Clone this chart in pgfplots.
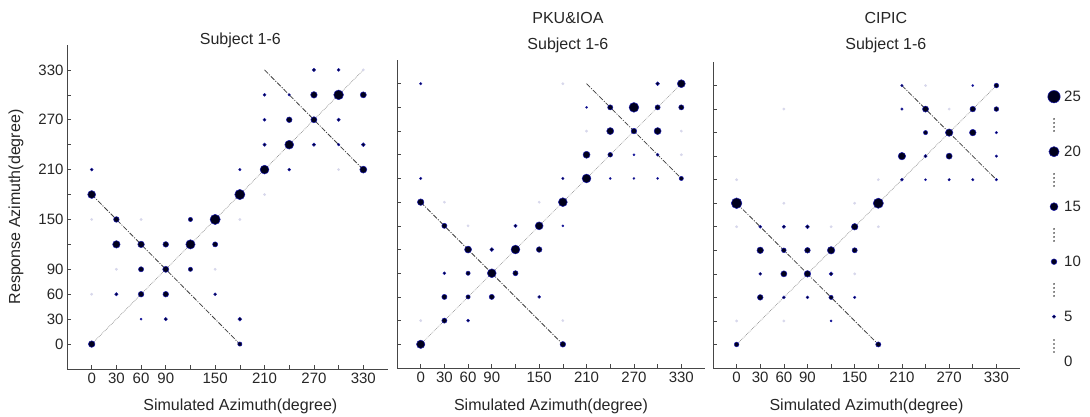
\documentclass[border=0pt]{standalone}
\usepackage{fontspec}
\setmainfont{Liberation Sans}
\usepackage{pgfplots}
\usepackage{pgfplotstable}
\pgfplotsset{compat=1.18}
\definecolor{dotfill}{RGB}{0,0,30}
\definecolor{dotedge}{RGB}{30,30,175}
\definecolor{spine}{RGB}{70,70,70}
\definecolor{faint}{RGB}{215,215,235}

\pgfplotstableread{
x y s
0 0 12
0 180 15
0 210 4
30 150 10
30 120 14
30 60 5
60 120 12
60 90 9
60 60 10
60 30 2
90 120 10
90 90 11
90 60 10
90 30 5
120 150 7
120 120 18
120 90 7
150 150 20
150 120 9
150 60 4
180 180 20
180 210 3
180 30 6
180 0 7
210 210 17
210 300 4
210 270 4
210 240 5
240 270 10
240 240 17
240 300 3
240 210 4
270 330 5
270 300 12
270 270 11
270 240 5
300 330 4
300 300 19
300 270 5
300 240 3
330 300 11
330 240 6
330 210 13
}\panelA
\pgfplotstableread{
x y
0 150
0 60
30 90
60 150
150 90
180 150
210 180
300 210
330 330
}\faintA

\pgfplotstableread{
x y s
0 330 3
0 210 3
0 180 12
0 0 16
30 150 9
30 90 4
30 60 9
30 30 9
60 120 13
60 90 7
60 60 7
60 30 4
90 120 6
90 90 17
90 60 9
120 150 5
120 120 17
120 90 9
150 150 15
150 120 10
150 60 4
180 180 17
180 210 3
180 150 2
180 0 10
210 210 17
210 240 13
210 300 2
240 300 9
240 270 13
240 240 8
240 210 2
270 300 19
270 270 10
270 240 2
270 210 2
300 330 6
300 300 9
300 270 13
300 240 4
300 210 2
330 330 15
330 300 9
330 210 7
}\panelB
\pgfplotstableread{
x y
180 330
30 180
60 150
150 180
0 30
180 30
330 270
330 240
210 270
}\faintB

\pgfplotstableread{
x y s
0 180 21
0 0 8
30 150 4
30 120 12
30 90 4
30 60 10
60 150 5
60 120 8
60 90 11
60 60 4
90 150 6
90 120 10
90 90 12
90 60 4
120 120 14
120 90 6
120 60 7
120 30 2
150 150 12
150 120 9
150 60 3
180 180 20
180 0 9
210 330 3
210 300 3
210 210 4
210 240 14
240 300 11
240 270 7
240 240 5
240 210 2
270 270 14
270 240 11
270 210 3
300 330 2
300 300 10
300 270 12
300 210 3
330 330 8
330 300 8
330 270 3
330 240 3
330 210 3
}\panelC
\pgfplotstableread{
x y
270 300
60 300
0 210
60 180
150 180
180 210
0 150
120 150
180 150
0 30
60 30
150 90
240 330
}\faintC

\pgfplotstableread{
x y s
14 320.3 25
14 265.3 20
14 210.3 15
14 155.3 10
14 100.3 5
}\legdots
\pgfplotstableread{
x y
14 298
14 294
14 290
14 286
14 243
14 239
14 235
14 231
14 188
14 184
14 180
14 176
14 133
14 129
14 125
14 121
14 77
14 73
14 69
14 65
}\legellipsis

\pgfplotsset{
  panel/.style={
    scale only axis, xmin=-30, xmax=360, ymin=-30, ymax=360,
    axis x line*=bottom, axis y line*=left,
    axis line style={spine, line width=0.8pt},
    tick align=inside, major tick length=3.5pt,
    tick style={spine, line width=0.6pt},
    xtick={0,30,...,330}, ytick={0,30,...,330},
    xticklabels={0,30,60,90,{},150,{},210,{},270,{},330},
    tick label style={font=\fontsize{15}{18}\selectfont, text=black!85},
    label style={font=\fontsize{16}{19}\selectfont, text=black!85},
    xlabel={Simulated Azimuth(degree)},
    clip=false,
  },
  bubbles/.style={
    scatter, only marks, mark=*, point meta=\thisrow{s},
    scatter/use mapped color={draw=dotedge, fill=dotfill},
    visualization depends on={0.55+\thisrow{s}/4.4 \as \perpointmarksize},
    scatter/@pre marker code/.append style={/tikz/mark size=\perpointmarksize},
    line width=0.5pt,
  },
  faintdots/.style={only marks, mark=*, mark size=1.2pt, color=faint},
  diag/.style={black!45, densely dotted, line width=0.7pt},
  anti/.style={black!75, dash pattern=on 5pt off 1.5pt on 1pt off 1.5pt, line width=0.8pt},
}
\newcommand{\ttl}{\fontsize{16}{19}\selectfont}
\newcommand{\lgf}{\fontsize{15}{18}\selectfont}

\begin{document}
\begin{tikzpicture}
\useasboundingbox (0,0) rectangle (1090pt,417pt);

% Panel 1
\begin{axis}[panel, at={(67pt,48pt)}, anchor=south west, width=321pt, height=324pt,
  yticklabels={0,30,60,90,{},150,{},210,{},270,{},330},
  ylabel={Response Azimuth(degree)},
  xlabel style={at={(axis description cs:0.54,-0.114)}, anchor=center},
  ylabel style={at={(axis description cs:-0.159,0.5)}, anchor=center}]
  \addplot[diag] coordinates {(0,0) (330,330)};
  \addplot[anti] coordinates {(0,180) (180,0)};
  \addplot[anti] coordinates {(210,330) (330,210)};
  \addplot[faintdots] table[x=x,y=y] {\faintA};
  \addplot[bubbles] table[x=x,y=y] {\panelA};
  \node[font=\ttl, text=black!85] at (axis description cs:0.54,1.015) {Subject 1-6};
\end{axis}

% Panel 2
\begin{axis}[panel, at={(397pt,49pt)}, anchor=south west, width=308pt, height=308pt,
  yticklabels={},
  xlabel style={at={(axis description cs:0.5,-0.124)}, anchor=center}]
  \addplot[diag] coordinates {(0,0) (330,330)};
  \addplot[anti] coordinates {(0,180) (180,0)};
  \addplot[anti] coordinates {(210,330) (330,210)};
  \addplot[faintdots] table[x=x,y=y] {\faintB};
  \addplot[bubbles] table[x=x,y=y] {\panelB};
  \node[font=\ttl, text=black!85] at (axis description cs:0.555,1.137) {PKU\&IOA};
  \node[font=\ttl, text=black!85] at (axis description cs:0.555,1.049) {Subject 1-6};
\end{axis}

% Panel 3
\begin{axis}[panel, at={(713pt,49pt)}, anchor=south west, width=307pt, height=306pt,
  yticklabels={},
  xlabel style={at={(axis description cs:0.5,-0.124)}, anchor=center}]
  \addplot[diag] coordinates {(0,0) (330,330)};
  \addplot[anti] coordinates {(0,180) (180,0)};
  \addplot[anti] coordinates {(210,330) (330,210)};
  \addplot[faintdots] table[x=x,y=y] {\faintC};
  \addplot[bubbles] table[x=x,y=y] {\panelC};
  \node[font=\ttl, text=black!85] at (axis description cs:0.563,1.143) {CIPIC};
  \node[font=\ttl, text=black!85] at (axis description cs:0.563,1.055) {Subject 1-6};
\end{axis}

% Size legend
\begin{axis}[hide axis, scale only axis, at={(1040pt,0pt)}, anchor=south west,
  width=50pt, height=417pt, xmin=0, xmax=50, ymin=0, ymax=417, clip=false]
  \addplot[bubbles] table[x=x,y=y] {\legdots};
  \addplot[only marks, mark=*, mark size=0.7pt, black!65] table[x=x,y=y] {\legellipsis};
  \node[font=\lgf, text=black!85, anchor=west, inner sep=0pt] at (axis cs:24,320.3) {25};
  \node[font=\lgf, text=black!85, anchor=west, inner sep=0pt] at (axis cs:24,265.3) {20};
  \node[font=\lgf, text=black!85, anchor=west, inner sep=0pt] at (axis cs:24,210.3) {15};
  \node[font=\lgf, text=black!85, anchor=west, inner sep=0pt] at (axis cs:24,155.3) {10};
  \node[font=\lgf, text=black!85, anchor=west, inner sep=0pt] at (axis cs:24,100.3) {5};
  \node[font=\lgf, text=black!85, anchor=west, inner sep=0pt] at (axis cs:24,55.3) {0};
\end{axis}
\end{tikzpicture}
\end{document}
